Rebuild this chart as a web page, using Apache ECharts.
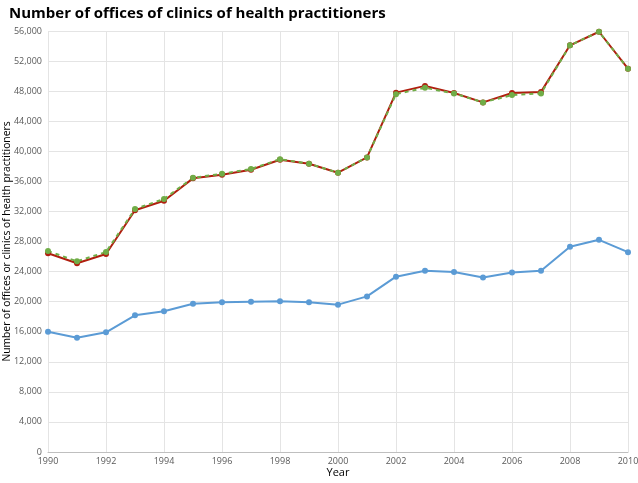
<!DOCTYPE html>
<html><head><meta charset="utf-8">
<script src="https://cdn.jsdelivr.net/npm/echarts@6/dist/echarts.min.js"></script>
<style>html,body{margin:0;padding:0;background:#fff}#c{width:638px;height:483px}</style>
</head><body><div id="c"></div>
<script>
const years = [1990,1991,1992,1993,1994,1995,1996,1997,1998,1999,2000,2001,2002,2003,2004,2005,2006,2007,2008,2009,2010];
const seriesRed = [26430,25100,26330,32150,33430,36400,36880,37550,38880,38350,37150,39190,47800,48700,47750,46500,47750,47900,54100,55900,50980];
const seriesGreen = [26730,25360,26600,32320,33650,36480,37010,37640,38950,38350,37150,39190,47600,48450,47700,46500,47480,47700,54100,55900,50980];
const seriesBlue = [16000,15200,15920,18180,18710,19720,19910,20000,20040,19910,19600,20700,23320,24110,23930,23220,23890,24110,27300,28220,26580];
const yTicks = {min:0, max:56000, interval:4000};
const xTicks = {min:1990, max:2010, interval:2};

const pair = arr => years.map((y,i)=>[y,arr[i]]);
const chart = echarts.init(document.getElementById('c'), null, {renderer:'canvas'});
const font = "'Open Sans', sans-serif";
chart.setOption({
  animation:false,
  title:{text:'Number of offices of clinics of health practitioners', left:4, top:1,
    textStyle:{fontFamily:font, fontWeight:'bold', fontSize:15, color:'#000'}},
  grid:{left:48, right:10, top:31, bottom:31, containLabel:false, outerBoundsMode:'none'},
  xAxis:{type:'value', min:xTicks.min, max:xTicks.max, interval:xTicks.interval,
    name:'Year', nameLocation:'middle', nameGap:15, nameMoveOverlap:false,
    nameTextStyle:{fontFamily:font, fontSize:11, color:'#000'},
    axisLine:{show:true, lineStyle:{color:'#bfbfbf'}}, axisTick:{show:false},
    axisLabel:{formatter:v=>String(v), fontFamily:font, fontSize:9, color:'#595959', margin:5},
    splitLine:{show:true, lineStyle:{color:'#e4e4e4'}}},
  yAxis:{type:'value', min:yTicks.min, max:yTicks.max, interval:yTicks.interval,
    name:'Number of offices or clinics of health practitioners', nameLocation:'middle', nameGap:36, nameMoveOverlap:false,
    nameTextStyle:{fontFamily:font, fontSize:10.3, color:'#000'},
    axisLine:{show:false}, axisTick:{show:false},
    axisLabel:{fontFamily:font, fontSize:9, color:'#595959', margin:6},
    splitLine:{show:true, lineStyle:{color:'#e4e4e4'}}},
  series:[
    {type:'line', data:pair(seriesBlue), symbol:'circle', symbolSize:6,
      lineStyle:{color:'#5b9bd5', width:2}, itemStyle:{color:'#5b9bd5'}},
    {type:'line', data:pair(seriesRed), symbol:'circle', symbolSize:6,
      lineStyle:{color:'#b01e0e', width:2}, itemStyle:{color:'#b01e0e'}},
    {type:'line', data:pair(seriesGreen), symbol:'circle', symbolSize:6,
      lineStyle:{color:'#70ad47', width:2, type:[4,4]}, itemStyle:{color:'#70ad47'}}
  ]
});
</script></body></html>
